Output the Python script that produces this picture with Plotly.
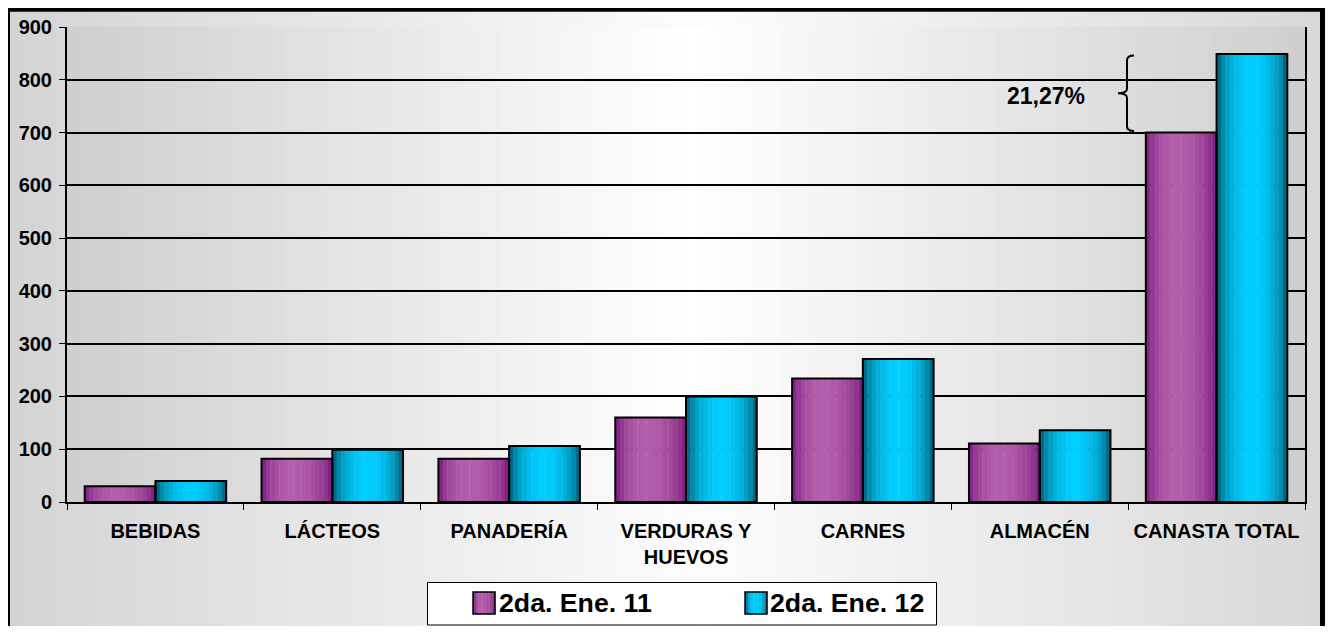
import plotly.graph_objects as go

categories = ["BEBIDAS", "LÁCTEOS", "PANADERÍA", "VERDURAS Y<br>HUEVOS", "CARNES", "ALMACÉN", "CANASTA TOTAL"]
series_names = ["2da. Ene. 11", "2da. Ene. 12"]
values_ene11 = [30, 82, 82, 160, 234, 111, 700]
values_ene12 = [40, 99, 106, 200, 271, 136, 849]
y_ticks = [0, 100, 200, 300, 400, 500, 600, 700, 800, 900]
pct_label = "21,27%"

# page has an 8px body margin on every side; coordinates below are screen pixels
OFF = 8
W, H = 1333 - 2 * OFF, 634 - 2 * OFF
SL, ST, SR, SB = 67, 27, 1305, 502  # plot area on screen
L, T = SL - OFF, ST - OFF
PW, PH = SR - SL, SB - ST
R, B = W - L - PW, H - T - PH
FONT = "Liberation Sans, Arial, sans-serif"


def px2paper_x(px):
    return (px - SL) / PW


def py2paper_y(py):
    return (SB - py) / PH


def lerp(c0, c1, t):
    return tuple(int(round(a + (b - a) * t)) for a, b in zip(c0, c1))


def rgb(c):
    return "rgb(%d,%d,%d)" % c


def shade(st, t):
    span = st["peak"] if t < st["peak"] else 1 - st["peak"]
    f = 1 - ((t - st["peak"]) / span) ** 2
    f = max(0.0, min(1.0, f)) ** 0.7
    return rgb(lerp(st["dark"], st["light"], f))


fig = go.Figure()

# gradient bars: vertical strips
N = 16
bar_w = 0.4
styles = [
    dict(dark=(118, 18, 122), light=(178, 94, 170), peak=0.42, base=-0.4),
    dict(dark=(0, 78, 100), light=(0, 206, 255), peak=0.5, base=0.0),
]
for vals, st in zip([values_ene11, values_ene12], styles):
    for k in range(N):
        t = (k + 0.5) / N
        fig.add_trace(go.Bar(
            x=categories, y=vals, width=bar_w / N + 0.002,
            offset=st["base"] + k * bar_w / N,
            marker=dict(color=shade(st, t), line=dict(width=0)),
            showlegend=False, hoverinfo="skip"))
for vals, st in zip([values_ene11, values_ene12], styles):
    fig.add_trace(go.Bar(
        x=categories, y=vals, width=bar_w, offset=st["base"],
        marker=dict(color="rgba(0,0,0,0)", line=dict(color="black", width=2)),
        showlegend=False))

# legend entries (symbols drawn as shapes below)
for name in series_names:
    fig.add_trace(go.Scatter(
        x=[None], y=[None], mode="markers", name=name,
        marker=dict(symbol="square", size=2, color="rgba(0,0,0,0)",
                    line=dict(color="rgba(0,0,0,0)", width=0))))

shapes = []
# outer background gradient
nstrip = 80
x_left, x_right, c_out = 9, 1323, 700
for i in range(nstrip):
    a = x_left + (x_right - x_left) * i / nstrip
    b = x_left + (x_right - x_left) * (i + 1) / nstrip
    m = (a + b) / 2
    d = abs(m - c_out) / max(c_out - x_left, x_right - c_out)
    v = int(round(252 - (252 - 212) * d))
    shapes.append(dict(type="rect", xref="paper", yref="paper",
                       x0=px2paper_x(a), x1=px2paper_x(b) + 0.001,
                       y0=py2paper_y(660), y1=py2paper_y(9),
                       fillcolor=rgb((v, v, v)), line=dict(width=0), layer="below"))
# plot-area gradient
c_in = 690
for i in range(nstrip):
    a = SL + PW * i / nstrip
    b = SL + PW * (i + 1) / nstrip
    m = (a + b) / 2
    d = abs(m - c_in) / max(c_in - SL, SR - c_in)
    v = int(round(255 - (255 - 206) * d))
    shapes.append(dict(type="rect", xref="paper", yref="paper",
                       x0=px2paper_x(a), x1=px2paper_x(b) + 0.001, y0=0, y1=1,
                       fillcolor=rgb((v, v, v)), line=dict(width=0), layer="below"))
# outer frame (left, top, right; bottom is off-page)
fx0, fx1 = px2paper_x(7.5), px2paper_x(1322.5)
fy0, fy1 = py2paper_y(700), py2paper_y(9.2)
shapes.append(dict(type="path", xref="paper", yref="paper",
                   path=f"M {fx0},{fy0} L {fx0},{fy1} L {fx1},{fy1} L {fx1},{fy0}",
                   line=dict(color="black", width=5), layer="above"))
# legend box
shapes.append(dict(type="rect", xref="paper", yref="paper",
                   x0=px2paper_x(427.5), x1=px2paper_x(936.5),
                   y0=py2paper_y(625), y1=py2paper_y(582.5),
                   line=dict(color="black", width=1), fillcolor="white", layer="above"))
# legend swatches with gradient
for sx, st in zip([473, 745], styles):
    ns = 8
    for k in range(ns):
        shapes.append(dict(type="rect", xref="paper", yref="paper",
                           x0=px2paper_x(sx + 22 * k / ns), x1=px2paper_x(sx + 22 * (k + 1) / ns + 0.3),
                           y0=py2paper_y(614), y1=py2paper_y(592),
                           fillcolor=shade(st, (k + 0.5) / ns), line=dict(width=0), layer="above"))
    shapes.append(dict(type="rect", xref="paper", yref="paper",
                       x0=px2paper_x(sx), x1=px2paper_x(sx + 22),
                       y0=py2paper_y(614), y1=py2paper_y(592),
                       line=dict(color="black", width=1.5), fillcolor="rgba(0,0,0,0)", layer="above"))
# brace between the two CANASTA TOTAL values
top = values_ene12[-1] - 3
bot = values_ene11[-1] + 3
mid = (top + bot) / 2
dd = 9
xl, xt, xe = px2paper_x(1127), px2paper_x(1118), px2paper_x(1134)
path = (f"M {xe},{top} Q {xl},{top} {xl},{top - dd} L {xl},{mid + dd} "
        f"Q {xl},{mid} {xt},{mid} Q {xl},{mid} {xl},{mid - dd} "
        f"L {xl},{bot + dd} Q {xl},{bot} {xe},{bot}")
shapes.append(dict(type="path", xref="paper", yref="y", path=path,
                   line=dict(color="black", width=2), layer="above"))

fig.update_layout(
    width=W, height=H,
    margin=dict(l=L, r=R, t=T, b=B, autoexpand=False),
    paper_bgcolor="white", plot_bgcolor="rgba(0,0,0,0)",
    barmode="overlay",
    shapes=shapes,
    font=dict(family=FONT, color="black"),
    showlegend=True,
    legend=dict(orientation="h", x=px2paper_x(459), xanchor="left",
                y=py2paper_y(578), yanchor="top",
                bgcolor="rgba(0,0,0,0)", borderwidth=0,
                font=dict(family=FONT, size=26.7, weight="bold", color="black"),
                entrywidth=226, itemsizing="trace"),
    annotations=[dict(text=pct_label, xref="paper", yref="paper",
                      x=px2paper_x(1046), y=py2paper_y(96), xanchor="center", yanchor="middle",
                      showarrow=False,
                      font=dict(family=FONT, size=23, weight="bold", color="black"))],
    xaxis=dict(type="category", categoryorder="array", categoryarray=categories,
               range=[-0.5, len(categories) - 0.5], tickangle=0, automargin=False,
               showgrid=False, showline=True, linecolor="black", linewidth=2,
               ticks="outside", tickson="boundaries", ticklen=6, tickcolor="black", tickwidth=1,
               ticklabelstandoff=10,
               tickfont=dict(family=FONT, size=20, weight="bold", color="black"),
               zeroline=False, fixedrange=True),
    yaxis=dict(range=[0, 900], tickvals=y_ticks, showgrid=True, gridcolor="black", gridwidth=2,
               showline=True, linecolor="black", linewidth=2, mirror=True, automargin=False,
               ticks="outside", ticklen=6, tickcolor="black", tickwidth=1,
               ticklabelstandoff=3,
               tickfont=dict(family=FONT, size=20, weight="bold", color="black"),
               zeroline=False, fixedrange=True),
)

fig.write_html("out.html")
